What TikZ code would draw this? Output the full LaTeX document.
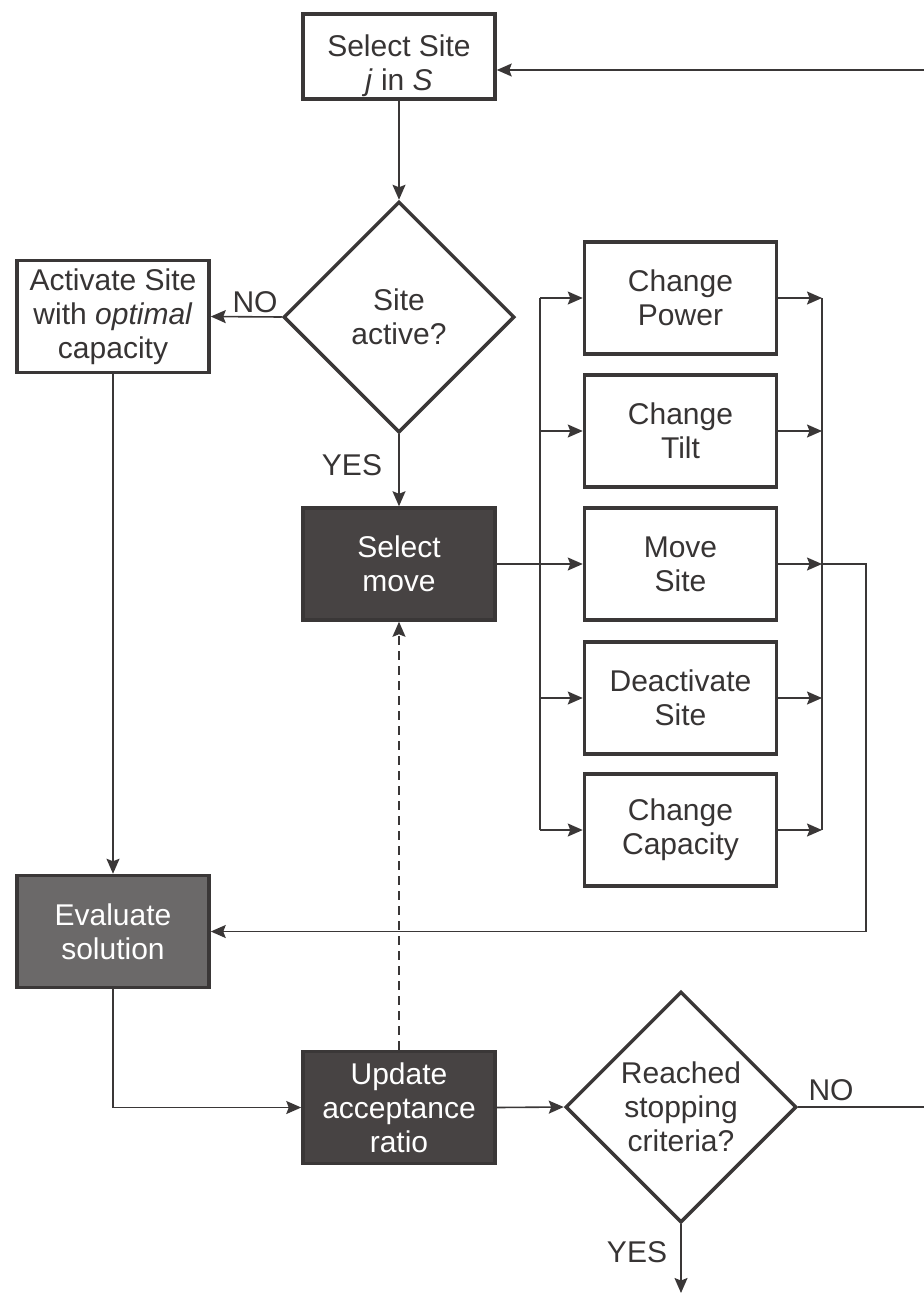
\documentclass[tikz,border=0pt]{standalone}
\usepackage{fontspec}
\setmainfont{Liberation Sans}
\usetikzlibrary{arrows.meta,shapes.geometric,calc}
\definecolor{ink}{RGB}{58,55,55}
\definecolor{darkfill}{RGB}{71,67,67}
\definecolor{midfill}{RGB}{107,105,105}
\definecolor{txt}{RGB}{55,52,52}
\begin{document}
\begin{tikzpicture}[x=1pt,y=-1pt,
  every node/.style={font=\fontsize{30}{34}\selectfont, text=txt},
  box/.style={draw=ink, line width=3.5pt, fill=white, minimum width=192pt,
    minimum height=112pt, inner sep=0pt, align=center},
  darkbox/.style={box, fill=darkfill, text=white},
  midbox/.style={box, fill=midfill, text=white},
  decision/.style={diamond, aspect=1, draw=ink, line width=3.5pt, fill=white,
    minimum width=231pt, minimum height=231pt, inner sep=0pt, align=center},
  conn/.style={draw=ink, line width=1.6pt},
  arr/.style={conn, -{Stealth[length=15pt,width=13pt,inset=2.5pt]}},
  lbl/.style={inner sep=0pt}
]
\useasboundingbox (0,0) rectangle (924,1294);

% process steps
\node[box, minimum height=85pt] (sel) at (399,56.5) {};
\node[inner sep=0pt, align=center] (selt) at (399,66) {Select Site\\\textit{j} in \textit{S}};
\node[decision] (d1) at (399,317) {Site\\active?};
\node[box] (act) at (113,316.5) {Activate Site\\with \textit{optimal}\\capacity};
\node[darkbox] (mv) at (399,564) {Select\\move};
\node[box] (pw) at (680.5,298) {Change\\Power};
\node[box] (tl) at (680.5,431) {Change\\Tilt};
\node[box] (ms) at (680.5,564) {Move\\Site};
\node[box] (da) at (680.5,698) {Deactivate\\Site};
\node[box] (cc) at (680.5,830) {Change\\Capacity};
\node[midbox] (ev) at (113,931.5) {Evaluate\\solution};
\node[darkbox] (up) at (399,1107.5) {Update\\acceptance\\ratio};
\node[decision] (d2) at (681,1107) {Reached\\stopping\\criteria?};

% branch and collector rails
\coordinate (bl) at (540,564);
\coordinate (brc) at (822,564);
\coordinate (out) at (866,564);
\coordinate (loopR) at (928,1107);
\coordinate (loopT) at (928,70);
\coordinate (stop) at (681,1293);

\draw[arr] (sel.south) -- (d1.north);
\draw[arr] (d1.west) -- (act.east);
\draw[arr] (d1.south) -- (mv.north);
\draw[arr] (act.south) -- (ev.north);

\draw[conn] (mv.east) -- (bl);
\draw[conn] (bl |- pw.west) -- (bl |- cc.west);
\draw[conn] (brc |- pw.east) -- (brc |- cc.east);
\foreach \n in {pw,tl,ms,da,cc}{
  \draw[arr] (bl |- \n.west) -- (\n.west);
  \draw[arr] (\n.east) -- (brc |- \n.east);
}
\draw[arr] (brc) -- (out) |- (ev.east);

\draw[arr] (ev.south) |- (up.west);
\draw[arr, dash pattern=on 9pt off 6pt] (up.north) -- (mv.south);
\draw[arr] (up.east) -- (d2.west);
\draw[arr] (d2.east) -- (loopR) -- (loopT) -- (loopT -| sel.east);
\draw[arr] (d2.south) -- (stop);

% branch labels
\node[lbl] (no1) at (255,302) {NO};
\node[lbl] (yes1) at (352,465) {YES};
\node[lbl] (no2) at (831,1090) {NO};
\node[lbl] (yes2) at (637,1252) {YES};
\end{tikzpicture}
\end{document}
